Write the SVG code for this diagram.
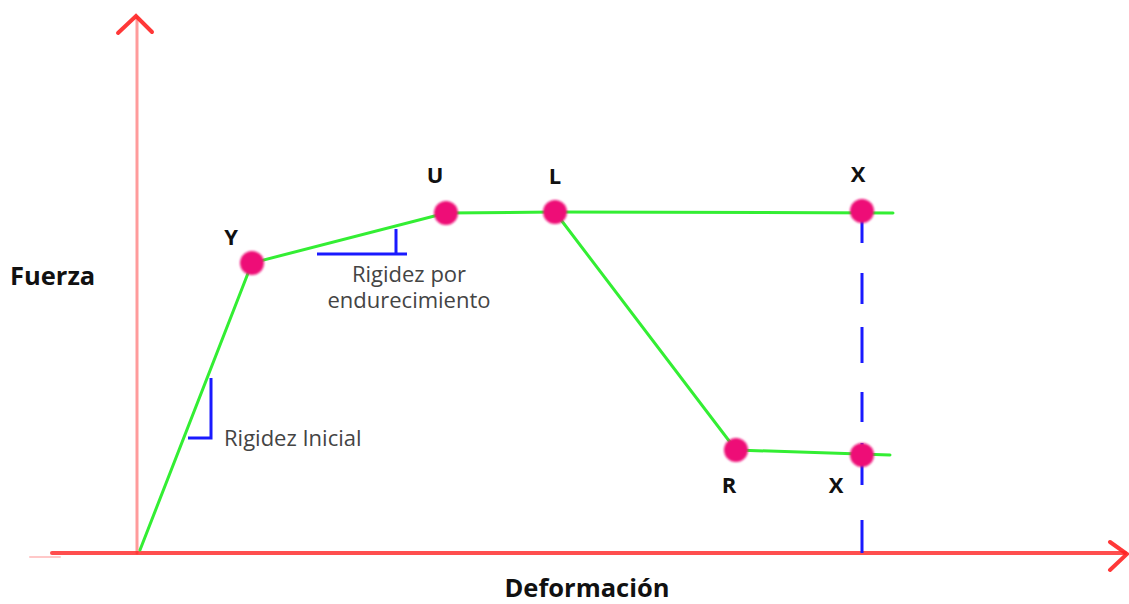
<svg xmlns="http://www.w3.org/2000/svg" width="1129" height="604" viewBox="0 0 1129 604">
<defs>
<style>
.lbl{font-family:"Open Sans","Noto Sans",sans-serif;font-weight:bold;font-size:22px;fill:#111;}
.big{font-size:25.5px;}
.note{font-family:"Open Sans","Noto Sans",sans-serif;font-size:22px;fill:#444;}
.curve{stroke:#33ee33;stroke-width:3;fill:none;stroke-linecap:round;}
.dot{fill:#ee1177;}
.blue{stroke:#1a1aff;stroke-width:3;fill:none;}
.axis{stroke:#ff2222;fill:none;stroke-linecap:round;}
</style>
<filter id="soft" x="-30%" y="-30%" width="160%" height="160%"><feGaussianBlur stdDeviation="1"/></filter>
</defs>
<rect width="1129" height="604" fill="#fff"/>
<g id="axes">
<line class="axis" x1="137" y1="17" x2="137" y2="553" stroke-width="3" stroke-opacity="0.45"/>
<polyline class="axis" points="118,33 136,16 152,32" stroke-width="4" stroke-opacity="0.9"/>
<line class="axis" x1="30" y1="557" x2="60" y2="557" stroke-width="2" stroke-opacity="0.25"/>
<line class="axis" x1="52" y1="553" x2="1125" y2="553" stroke-width="4" stroke-opacity="0.8"/>
<polyline class="axis" points="1110,542 1127,554 1110,570" stroke-width="4" stroke-opacity="0.9"/>
</g>
<g id="connectors">
<polyline class="curve" points="140,550 252,263 446,213 555,212 893,213"/>
<polyline class="curve" points="555,212 736,450 890,455"/>
<path d="M862,213V243M862,273V304M862,327V363M862,392V422M862,443V485M862,520V553" stroke="#1a1aff" stroke-width="3" fill="none"/>
<polyline class="blue" points="211,378 211,438 188,438"/>
<polyline class="blue" points="396,229 396,254 317,254 407,254"/>
</g>
<g id="node-Y"><circle class="dot" cx="252" cy="263" r="12" filter="url(#soft)"/><text class="lbl" x="231" y="245" text-anchor="middle">Y</text></g>
<g id="node-U"><circle class="dot" cx="446" cy="213" r="12" filter="url(#soft)"/><text class="lbl" x="435" y="183" text-anchor="middle">U</text></g>
<g id="node-L"><circle class="dot" cx="555" cy="212" r="12" filter="url(#soft)"/><text class="lbl" x="555" y="184" text-anchor="middle">L</text></g>
<g id="node-X1"><circle class="dot" cx="862" cy="211" r="12" filter="url(#soft)"/><text class="lbl" x="858" y="182" text-anchor="middle">X</text></g>
<g id="node-R"><circle class="dot" cx="736" cy="450" r="12" filter="url(#soft)"/><text class="lbl" x="729" y="493" text-anchor="middle">R</text></g>
<g id="node-X2"><circle class="dot" cx="862" cy="455" r="12" filter="url(#soft)"/><text class="lbl" x="836" y="493" text-anchor="middle">X</text></g>
<g id="labels">
<text class="lbl big" x="10" y="285">Fuerza</text>
<text class="lbl big" x="587" y="597" text-anchor="middle">Deformación</text>
<text class="note" x="224" y="446">Rigidez Inicial</text>
<text class="note" x="409" y="282" text-anchor="middle">Rigidez por</text>
<text class="note" x="409" y="308" text-anchor="middle">endurecimiento</text>
</g>
</svg>
